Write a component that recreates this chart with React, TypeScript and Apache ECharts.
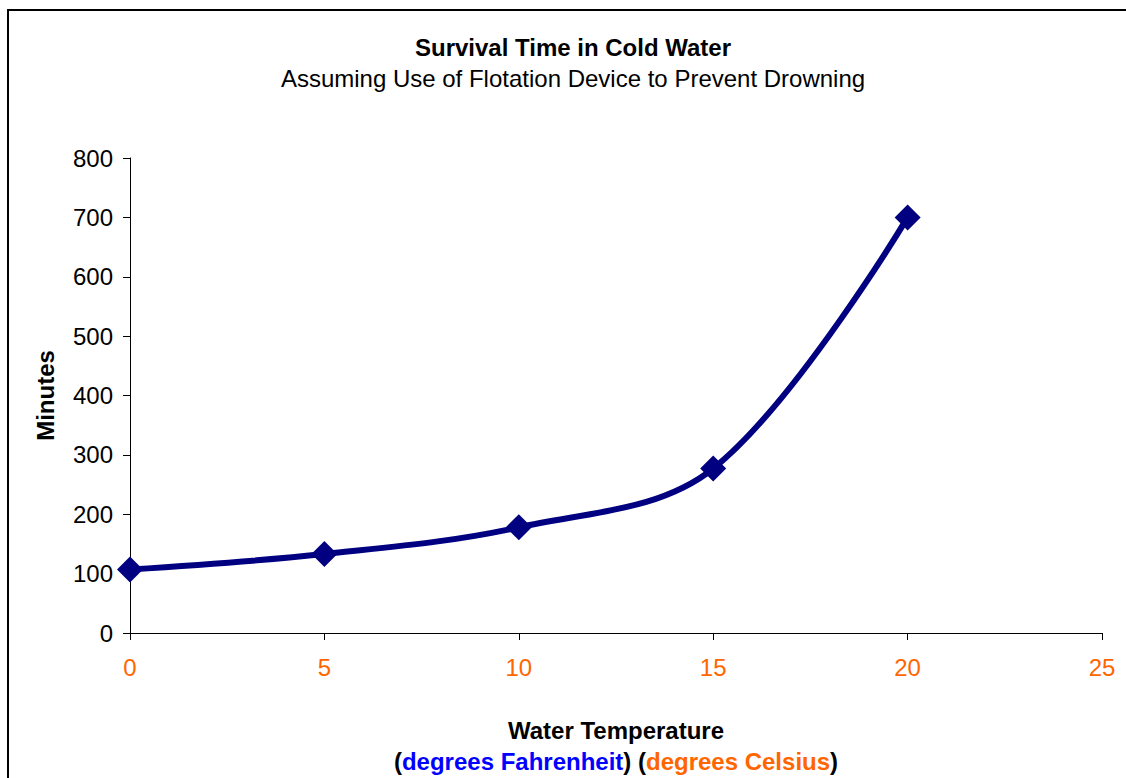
import React, { useEffect, useRef } from "react";
import * as echarts from "echarts";

const temperatures = [0, 5, 10, 15, 20];
const minutes = [107, 133, 178, 277, 700];
const xTicks = [0, 5, 10, 15, 20, 25];
const yTicks = [0, 100, 200, 300, 400, 500, 600, 700, 800];

const FONT = "Liberation Sans, Arial, sans-serif";

export default function App() {
  const ref = useRef<HTMLDivElement>(null);
  useEffect(() => {
    if (!ref.current) return;
    const chart = echarts.init(ref.current, null, { renderer: "svg" });
    chart.setOption({
      animation: false,
      backgroundColor: "#ffffff",
      textStyle: { fontFamily: FONT },
      grid: { left: 130, right: 24, top: 158, bottom: 145 },
      xAxis: {
        type: "value",
        min: xTicks[0],
        max: xTicks[xTicks.length - 1],
        interval: 5,
        axisLine: { show: true, lineStyle: { color: "#000", width: 1 } },
        axisTick: { show: true, length: 7, lineStyle: { color: "#000" } },
        splitLine: { show: false },
        axisLabel: { color: "#FF6600", fontSize: 24, margin: 22, fontFamily: FONT },
      },
      yAxis: {
        type: "value",
        min: yTicks[0],
        max: yTicks[yTicks.length - 1],
        interval: 100,
        axisLine: { show: true, lineStyle: { color: "#000", width: 1 } },
        axisTick: { show: true, length: 7, lineStyle: { color: "#000" } },
        splitLine: { show: false },
        axisLabel: { color: "#000", fontSize: 24, margin: 17, fontFamily: FONT },
        name: "Minutes",
        nameLocation: "middle",
        nameGap: 73,
        nameTextStyle: { color: "#000", fontSize: 24, fontWeight: "bold", fontFamily: FONT },
      },
      series: [
        {
          type: "line",
          data: temperatures.map((t, i) => [t, minutes[i]]),
          smooth: 0.35,
          symbol: "diamond",
          symbolSize: 26,
          lineStyle: { color: "#000080", width: 6 },
          itemStyle: { color: "#000080" },
        },
      ],
      graphic: [
        {
          type: "rect",
          shape: { x: 8, y: 10, width: 1300, height: 1000 },
          style: { fill: "none", stroke: "#000", lineWidth: 2 },
          silent: true,
        },
        {
          type: "text",
          x: 573,
          y: 47,
          style: {
            text: "Survival Time in Cold Water",
            font: `bold 24px ${FONT}`,
            fill: "#000",
            textAlign: "center",
            textVerticalAlign: "middle",
          },
        },
        {
          type: "text",
          x: 573,
          y: 78,
          style: {
            text: "Assuming Use of Flotation Device to Prevent Drowning",
            font: `24px ${FONT}`,
            fill: "#000",
            textAlign: "center",
            textVerticalAlign: "middle",
          },
        },
        {
          type: "text",
          x: 616,
          y: 730,
          style: {
            text: "Water Temperature",
            font: `bold 24px ${FONT}`,
            fill: "#000",
            textAlign: "center",
            textVerticalAlign: "middle",
          },
        },
        {
          type: "text",
          x: 616,
          y: 761,
          style: {
            text: "{k|(}{f|degrees Fahrenheit}{k|) (}{c|degrees Celsius}{k|)}",
            font: `bold 24px ${FONT}`,
            textAlign: "center",
            textVerticalAlign: "middle",
            rich: {
              k: { fill: "#000", font: `bold 24px ${FONT}` },
              f: { fill: "#0000FF", font: `bold 24px ${FONT}` },
              c: { fill: "#FF6600", font: `bold 24px ${FONT}` },
            },
          },
        },
      ],
    });
    return () => chart.dispose();
  }, []);
  return (
    <div
      ref={ref}
      style={{ position: "fixed", left: 0, top: 0, width: 1126, height: 778 }}
    />
  );
}
